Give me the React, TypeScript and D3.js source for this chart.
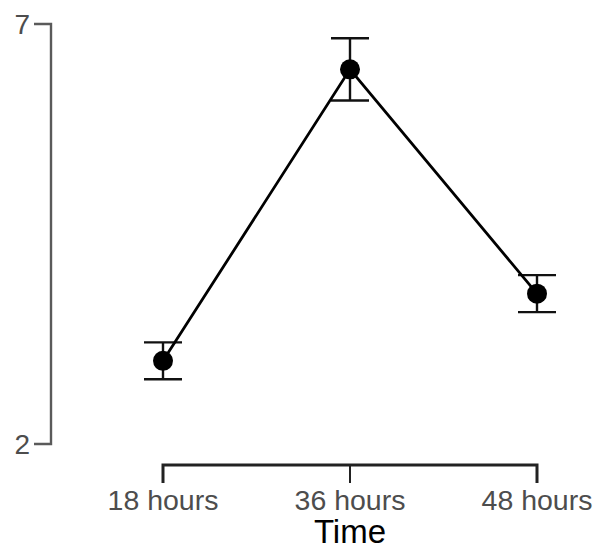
import React from "react";
import * as d3 from "d3";

const categories = ["18 hours", "36 hours", "48 hours"];
const means = [2.99, 6.46, 3.79];
const errors = [0.22, 0.37, 0.22];
const yTicks = [2, 7];
const xTitle = "Time";

export default function App() {
  const W = 595, H = 552;
  const x = d3.scalePoint<string>().domain(categories).range([163, 537]);
  const y = d3.scaleLinear().domain([2, 7]).range([444, 24]);
  const line = d3.line<number>().x((_, i) => x(categories[i])!).y((d) => y(d));
  const font = "'Liberation Sans', Arial, sans-serif";
  const capHalf = 19;
  return (
    <div style={{ position: "absolute", left: 0, top: 0 }}>
      <svg width={W} height={H} style={{ display: "block" }}>
        <rect width={W} height={H} fill="#fff" />
        {/* y axis */}
        <path d={`M34,${y(7)}H51V${y(2)}H34`} fill="none" stroke="#5a5a5a" strokeWidth={2.4} />
        {yTicks.map((t) => (
          <text key={t} x={30} y={y(t)} dy="0.36em" textAnchor="end" fontFamily={font} fontSize={28} fill="#4d4d4d">
            {t}
          </text>
        ))}
        {/* x axis */}
        <path
          d={`M${x(categories[0])},483V465H${x(categories[2])}V483`}
          fill="none"
          stroke="#222"
          strokeWidth={3}
        />
        <line x1={x(categories[1])} x2={x(categories[1])} y1={465} y2={483} stroke="#222" strokeWidth={2} />
        {categories.map((c) => (
          <text key={c} x={x(c)} y={510} textAnchor="middle" fontFamily={font} fontSize={28.5} fill="#4d4d4d">
            {c}
          </text>
        ))}
        <text x={x(categories[1])} y={543} textAnchor="middle" fontFamily={font} fontSize={33} fill="#000">
          {xTitle}
        </text>
        {/* error bars */}
        {categories.map((c, i) => {
          const cx = x(c)!;
          const hi = y(means[i] + errors[i]);
          const lo = y(means[i] - errors[i]);
          return (
            <g key={c} stroke="#111" strokeWidth={2.4}>
              <line x1={cx} x2={cx} y1={hi} y2={lo} />
              <line x1={cx - capHalf} x2={cx + capHalf} y1={hi} y2={hi} />
              <line x1={cx - capHalf} x2={cx + capHalf} y1={lo} y2={lo} />
            </g>
          );
        })}
        <path d={line(means)!} fill="none" stroke="#000" strokeWidth={2.8} />
        {categories.map((c, i) => (
          <circle key={c} cx={x(c)} cy={y(means[i])} r={10} fill="#000" />
        ))}
      </svg>
    </div>
  );
}
